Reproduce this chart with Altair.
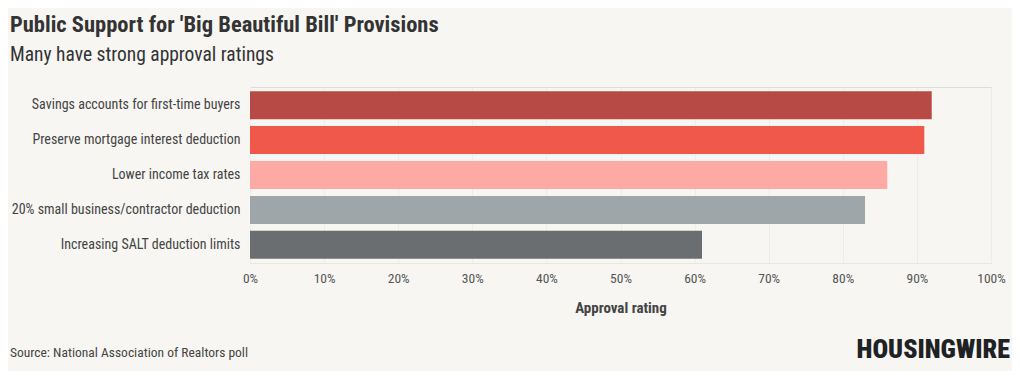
import altair as alt
import pandas as pd

provisions = [
    "Savings accounts for first-time buyers",
    "Preserve mortgage interest deduction",
    "Lower income tax rates",
    "20% small business/contractor deduction",
    "Increasing SALT deduction limits",
]
approval = [92, 91, 86, 83, 61]
colors = ["#b84a46", "#f0584c", "#fda9a4", "#9ea6aa", "#6b6e70"]

df = pd.DataFrame({"provision": provisions, "approval": [v / 100 for v in approval]})

FONT = "Roboto Condensed, Liberation Sans Narrow, DejaVu Sans Condensed, Roboto, sans-serif"
W, H = 741, 176

bars = alt.Chart(df).mark_bar().encode(
    x=alt.X("approval:Q",
            scale=alt.Scale(domain=[0, 1], nice=False),
            axis=alt.Axis(format="%", values=[i / 10 for i in range(11)],
                          title="Approval rating", titleFontSize=15, titleFontWeight="bold",
                          titleColor="#444", titlePadding=16, labelFontSize=13.5,
                          labelColor="#555", labelPadding=8, ticks=False, labelFlush=False,
                          domainColor="#e8e6e1", gridColor="#eeece7", labelFont=FONT,
                          titleFont=FONT)),
    y=alt.Y("provision:N", sort=provisions,
            scale=alt.Scale(paddingInner=0.2, paddingOuter=0.12),
            axis=alt.Axis(title=None, ticks=False, domain=False, grid=False,
                          labelFontSize=14, labelColor="#444", labelPadding=10,
                          labelLimit=300, labelFont=FONT)),
    color=alt.Color("provision:N", sort=provisions,
                    scale=alt.Scale(domain=provisions, range=colors), legend=None),
)

source = alt.Chart(pd.DataFrame({"t": ["Source: National Association of Realtors poll"]})).mark_text(
    align="left", baseline="alphabetic", fontSize=13.5, color="#444", font=FONT
).encode(text="t:N", x=alt.value(-240), y=alt.value(270))

logo = alt.Chart(pd.DataFrame({"t": ["HOUSINGWIRE"]})).mark_text(
    align="right", baseline="alphabetic", fontSize=26, fontWeight=900, color="#1f2224",
    font="Roboto Condensed, DejaVu Sans Condensed, Roboto, sans-serif"
).encode(text="t:N", x=alt.value(760), y=alt.value(271))

chart = alt.layer(bars, source, logo).properties(
    width=W, height=H,
    autosize=alt.AutoSizeParams(type="none"),
    padding={"left": 242, "top": 79, "right": 21, "bottom": 108},
    background="#f7f6f2",
    title=alt.TitleParams(
        text="Public Support for 'Big Beautiful Bill' Provisions",
        subtitle="Many have strong approval ratings",
        anchor="start", frame="group", dx=-240, offset=23,
        font=FONT, fontSize=22.5, fontWeight="bold", color="#333",
        subtitleFont=FONT, subtitleFontSize=19.5, subtitleColor="#333",
        subtitlePadding=9,
    ),
).configure_view(stroke=None).configure(font=FONT)

chart.save("out.html", embed_options={"renderer": "svg", "actions": False})
